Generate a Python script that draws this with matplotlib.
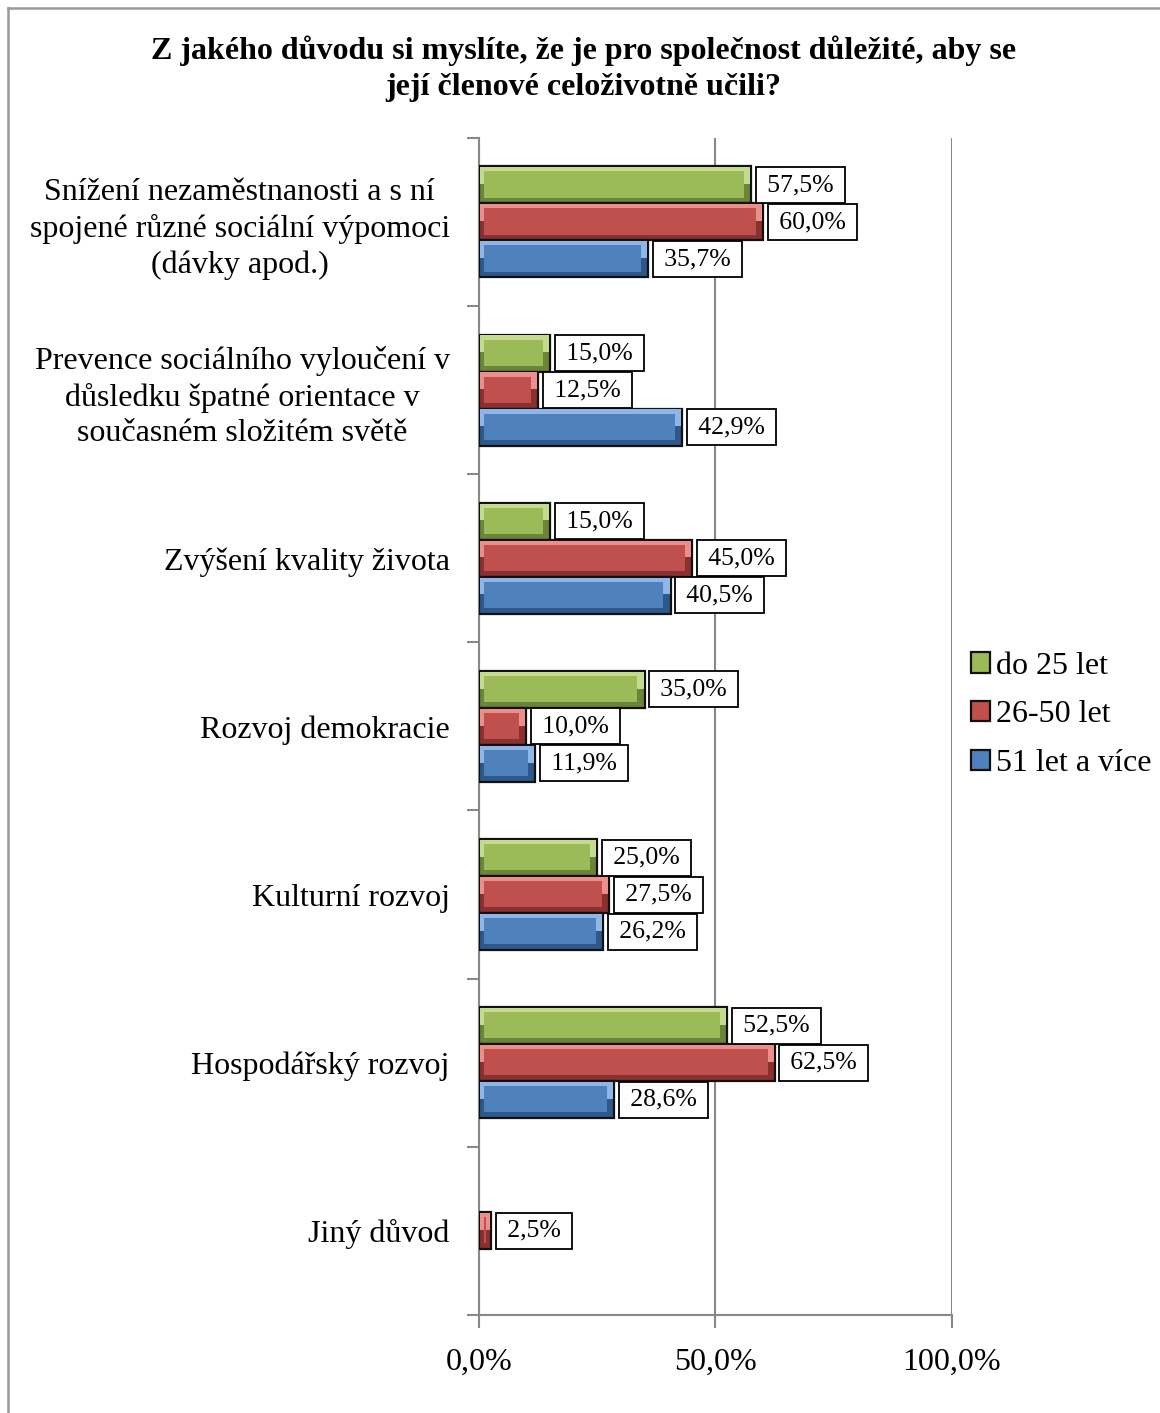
import matplotlib.pyplot as plt
import matplotlib.patches as mpatches
from matplotlib.lines import Line2D
import numpy as np

plt.rcParams['font.family'] = ['Liberation Serif', 'DejaVu Serif']

# Data
categories = [
    "Snížení nezaměstnanosti a s ní\nspojené různé sociální výpomoci\n(dávky apod.)",
    "Prevence sociálního vyloučení v\ndůsledku špatné orientace v\nsoučasném složitém světě",
    "Zvýšení kvality života",
    "Rozvoj demokracie",
    "Kulturní rozvoj",
    "Hospodářský rozvoj",
    "Jiný důvod",
]
do_25 = [57.5, 15.0, 15.0, 35.0, 25.0, 52.5, 0.0]
od_26_50 = [60.0, 12.5, 45.0, 10.0, 27.5, 62.5, 2.5]
nad_51 = [35.7, 42.9, 40.5, 11.9, 26.2, 28.6, 0.0]
series_names = ["do 25 let", "26-50 let", "51 let a více"]
colors = ["#9BBB59", "#C0504D", "#4F81BD"]
light = ["#C4DA8F", "#EC8E8B", "#8FB6E6"]
dark = ["#6A8535", "#8A302E", "#2D5889"]

title = ("Z jakého důvodu si myslíte, že je pro společnost důležité, aby se\n"
         "její členové celoživotně učili?")

fig = plt.figure(figsize=(11.6, 14.13), dpi=100)
ax = fig.add_axes([0.4129, 0.0694, 0.4078, 0.8330])

y = np.arange(len(categories))
h = 0.22
series = [do_25, od_26_50, nad_51]
offsets = [-h, 0, h]

sp = "\u2006"
for vals, off, c, lc, dc in zip(series, offsets, colors, light, dark):
    vals = np.array(vals) / 100.0
    pos = y + off
    mask = vals > 0
    # bevel: dark base, light top half, main-colour inner face
    ax.barh(pos[mask], vals[mask], height=h, color=dc, edgecolor='#111111',
            linewidth=1.6, zorder=3)
    ax.barh(pos[mask] - h / 4, vals[mask] - 0.004, left=0.002, height=h / 2 - 0.01,
            color=lc, linewidth=0, zorder=3.1)
    inner = np.maximum(vals[mask] - 0.026, 0.003)
    ax.barh(pos[mask] - 0.003, inner, left=0.011, height=h - 0.065, color=c,
            linewidth=0, zorder=3.2)
    for p, v in zip(pos[mask], vals[mask]):
        ax.annotate(sp + f"{v * 100:.1f}%".replace('.', ',') + sp, xy=(v, p),
                    xytext=(8.5, 0), textcoords='offset points', ha='left',
                    va='center', fontsize=18.5, zorder=5,
                    bbox=dict(boxstyle='square,pad=0.27', fc='white',
                              ec='black', lw=1.3))

ax.set_xlim(0, 1)
ax.set_ylim(len(categories) - 0.5, -0.5)
ax.set_xticks([0, 0.5, 1.0])
ax.set_xticklabels(["0,0%", "50,0%", "100,0%"], fontsize=23)
ax.set_yticks(y)
ax.set_yticklabels(categories, fontsize=23, linespacing=1.3, multialignment='center')
ax.set_yticks(np.arange(len(categories) + 1) - 0.5, minor=True)
ax.tick_params(axis='y', which='major', length=0, pad=21)
ax.tick_params(axis='y', which='minor', length=9, color='#888888', width=1.5)
ax.tick_params(axis='x', length=9, color='#888888', width=1.5, pad=15)

ax.xaxis.grid(True, color='#888888', linewidth=1.5, zorder=0)
ax.set_axisbelow(True)
for s in ['top', 'right']:
    ax.spines[s].set_visible(False)
for s in ['left', 'bottom']:
    ax.spines[s].set_color('#888888')
    ax.spines[s].set_linewidth(1.5)

fig.suptitle(title, fontsize=23, fontweight='bold', x=0.503, y=0.975,
             linespacing=1.32)

handles = [mpatches.Patch(facecolor=c, edgecolor='#111111', linewidth=1.6, label=n)
           for c, n in zip(colors, series_names)]
fig.legend(handles=handles, loc='center left', bbox_to_anchor=(0.812, 0.494),
           frameon=False, fontsize=23, handlelength=0.6, handleheight=0.6,
           handletextpad=0.2, labelspacing=0.62)

# chart frame: only the left and top edges are visible in the crop
fig.add_artist(Line2D([0.0068, 0.0068], [0, 0.9940], transform=fig.transFigure,
                      color='#999999', linewidth=1.8))
fig.add_artist(Line2D([0.0068, 1.0], [0.9940, 0.9940], transform=fig.transFigure,
                      color='#999999', linewidth=1.8))

fig.savefig("out.png", dpi=100)
